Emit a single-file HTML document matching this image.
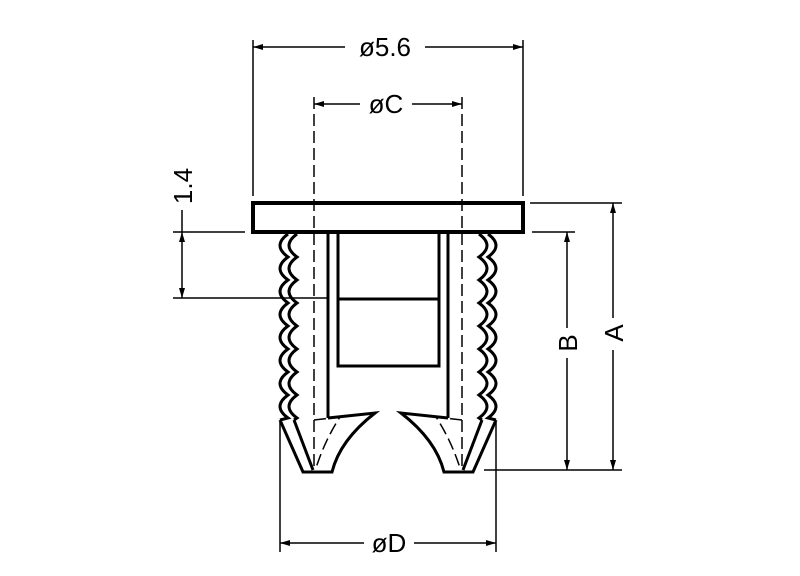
<!DOCTYPE html>
<html><head><meta charset="utf-8"><style>html,body{margin:0;padding:0;background:#fff}svg{display:block}</style></head><body>
<svg width="800" height="576" viewBox="0 0 800 576" xmlns="http://www.w3.org/2000/svg">
<defs>
<marker id="ar" viewBox="0 0 10 10" refX="10" refY="5" markerWidth="10" markerHeight="10" markerUnits="userSpaceOnUse" orient="auto-start-reverse"><path d="M0,2 L10,5 L0,8 z" fill="#000"/></marker>
</defs>
<g stroke="#000" fill="none" font-family="Liberation Sans, sans-serif">
<rect x="253" y="203" width="270" height="29" stroke-width="4"/>
<g stroke-width="3">
<line x1="328" y1="232" x2="328" y2="418"/>
<line x1="448" y1="232" x2="448" y2="418"/>
<rect x="338" y="232" width="101" height="134"/>
<line x1="338" y1="299" x2="439" y2="299"/>
<path d="M328,418 L375,413 Q340,440 332,472 L303,472 L280,420"/>
<path d="M294,420 L313,470"/>
<path d="M448,418 L401,413 Q436,440 444,472 L473,472 L496,420"/>
<path d="M482,420 L463,470"/>
<path d="M288,234 q-16,11.5 0,23 q-16,11.5 0,23 q-16,11.5 0,23 q-16,11.5 0,23 q-16,11.5 0,23 q-16,11.5 0,23 q-16,11.5 0,23 q-16,11.5 0,23 L280,420"/>
<path d="M297,234 q-16,11.5 0,23 q-16,11.5 0,23 q-16,11.5 0,23 q-16,11.5 0,23 q-16,11.5 0,23 q-16,11.5 0,23 q-16,11.5 0,23 q-16,11.5 0,23 L294,420"/>
<path d="M488,234 q16,11.5 0,23 q16,11.5 0,23 q16,11.5 0,23 q16,11.5 0,23 q16,11.5 0,23 q16,11.5 0,23 q16,11.5 0,23 q16,11.5 0,23 L496,420"/>
<path d="M479,234 q16,11.5 0,23 q16,11.5 0,23 q16,11.5 0,23 q16,11.5 0,23 q16,11.5 0,23 q16,11.5 0,23 q16,11.5 0,23 q16,11.5 0,23 L482,420"/>
</g>
<g stroke-width="1.5" stroke-dasharray="12,5">
<line x1="314" y1="97" x2="314" y2="470"/>
<line x1="462" y1="97" x2="462" y2="470"/>
<path d="M314,420 L340,417 Q325,440 316,468"/>
<path d="M462,420 L436,417 Q451,440 460,468"/>
</g>
<g stroke-width="1.5">
<line x1="253" y1="40" x2="253" y2="196"/>
<line x1="523" y1="40" x2="523" y2="196"/>
<line x1="253" y1="47" x2="345" y2="47" marker-start="url(#ar)"/>
<line x1="425" y1="47" x2="523" y2="47" marker-end="url(#ar)"/>
<line x1="314" y1="104" x2="360" y2="104" marker-start="url(#ar)"/>
<line x1="412" y1="104" x2="462" y2="104" marker-end="url(#ar)"/>
<line x1="280" y1="422" x2="280" y2="552"/>
<line x1="496" y1="422" x2="496" y2="552"/>
<line x1="280" y1="543" x2="364" y2="543" marker-start="url(#ar)"/>
<line x1="414" y1="543" x2="496" y2="543" marker-end="url(#ar)"/>
<line x1="530" y1="203" x2="622" y2="203"/>
<line x1="532" y1="232" x2="575" y2="232"/>
<line x1="484" y1="470" x2="622" y2="470"/>
<line x1="613" y1="203" x2="613" y2="318" marker-start="url(#ar)"/>
<line x1="613" y1="350" x2="613" y2="470" marker-end="url(#ar)"/>
<line x1="567" y1="232" x2="567" y2="328" marker-start="url(#ar)"/>
<line x1="567" y1="358" x2="567" y2="470" marker-end="url(#ar)"/>
<line x1="173" y1="232" x2="245" y2="232"/>
<line x1="173" y1="298" x2="328" y2="298"/>
<line x1="182" y1="210" x2="182" y2="232"/>
<line x1="182" y1="232" x2="182" y2="298" marker-start="url(#ar)" marker-end="url(#ar)"/>
</g>
<g fill="#000" stroke="none" font-size="26">
<text x="385" y="56" text-anchor="middle">ø5.6</text>
<text x="386" y="113" text-anchor="middle">øC</text>
<text x="389" y="552" text-anchor="middle">øD</text>
<text transform="translate(623,333) rotate(-90)" text-anchor="middle">A</text>
<text transform="translate(577,343) rotate(-90)" text-anchor="middle">B</text>
<text transform="translate(192,186) rotate(-90)" text-anchor="middle">1.4</text>
</g>
</g>
</svg>
</body></html>
